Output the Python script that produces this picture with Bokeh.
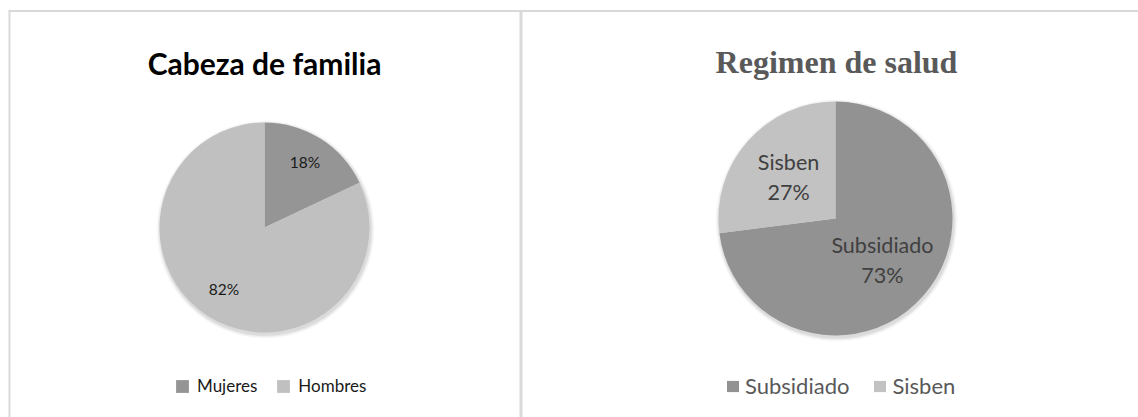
import numpy as np
from bokeh.plotting import figure
from bokeh.models import Range1d, ColumnDataSource, Legend, LegendItem
from bokeh.core.properties import value
from bokeh.embed import file_html
from bokeh.resources import INLINE

# ---- data ----
titles = ["Cabeza de familia", "Regimen de salud"]
fam_categories = ["Mujeres", "Hombres"]
fam_values = [18, 82]
sal_categories = ["Subsidiado", "Sisben"]
sal_values = [73, 27]

fam_colors = ["#959595", "#c0c0c0"]
sal_colors = ["#929292", "#c2c2c2"]

W, H = 1138, 417


def py(y):
    # page pixel y -> data y
    return 417 - y


p = figure(width=W, height=H, x_range=Range1d(0, 1138), y_range=Range1d(0, 417),
           x_axis_type=None, y_axis_type=None, toolbar_location=None,
           output_backend="svg", min_border=0)
p.outline_line_color = None
p.grid.visible = False
p.background_fill_color = "white"

# panel frame lines
p.segment(x0=[8, 9, 520.5], y0=[py(10.5), py(10), py(10)],
          x1=[1138, 9, 520.5], y1=[py(10.5), 0, 0],
          line_color="#d9d9d9", line_width=[2, 2, 3])


def pie_source(cats, vals, colors, cx, cy, r, label_frac):
    v = np.array(vals, float)
    frac = v / v.sum()
    ends = np.pi / 2 - 2 * np.pi * np.cumsum(frac)
    starts = np.concatenate([[np.pi / 2], ends[:-1]])
    mids = (starts + ends) / 2
    lx = cx + label_frac * r * np.cos(mids)
    ly = cy + label_frac * r * np.sin(mids)
    pct = [f"{round(f * 100)}%" for f in frac]
    return ColumnDataSource(dict(cat=list(cats), start=starts, end=ends, color=list(colors),
                                 lx=lx, ly=ly, pct=pct))


def shadow(cx, cy, r):
    for k, a in [(4, 0.025), (3, 0.03), (2, 0.04), (1, 0.05)]:
        p.circle(x=[cx + 1], y=[cy - 2], radius=r + k, fill_color="black",
                 fill_alpha=a, line_color=None)


# ---- left pie ----
lcx, lcy, lr = 264, py(227), 105
shadow(lcx, lcy, lr)
src_l = pie_source(fam_categories, fam_values, fam_colors, lcx, lcy, lr, 0.72)
r_l = p.wedge(x=lcx, y=lcy, radius=lr, start_angle="start", end_angle="end",
              direction="clock", fill_color="color", line_color=None, source=src_l)
p.text(x="lx", y="ly", text="pct", source=src_l, text_align="center", y_offset=-2,
       text_baseline="middle", text_font=value("Lato"), text_font_size="15.5px",
       text_color="#1a1a1a")
p.text(x=[264], y=[py(62)], text=[titles[0]], text_align="center",
       text_baseline="alphabetic", text_font=value("Lato"), text_font_style="bold",
       text_font_size="30px", text_color="black")

# ---- right pie ----
rcx, rcy, rr = 835, py(218), 117
shadow(rcx, rcy, rr)
src_r = pie_source(sal_categories, sal_values, sal_colors, rcx, rcy, rr, 0.535)
r_r = p.wedge(x=rcx, y=rcy, radius=rr, start_angle="start", end_angle="end",
              direction="clock", fill_color="color", line_color=None, source=src_r)
p.text(x="lx", y="ly", text="cat", source=src_r, text_align="center", y_offset=-15,
       text_baseline="middle", text_font=value("Lato"), text_font_size="21.5px",
       text_color="#404040")
p.text(x="lx", y="ly", text="pct", source=src_r, text_align="center", y_offset=15,
       text_baseline="middle", text_font=value("Lato"), text_font_size="21.5px",
       text_color="#404040")
p.text(x=[836], y=[py(61)], text=[titles[1]], text_align="center",
       text_baseline="alphabetic", text_font=value("Liberation Serif"),
       text_font_style="bold", text_font_size="32px", text_color="#595959")

# ---- legends ----
leg_l = Legend(items=[LegendItem(label=c, renderers=[r_l], index=i)
                      for i, c in enumerate(fam_categories)],
               orientation="horizontal", location=(174, 21), padding=0, margin=0,
               spacing=18, label_standoff=7, glyph_width=16, glyph_height=16,
               label_height=16, label_text_font="Lato", label_text_font_size="17px",
               label_text_color="#1a1a1a", background_fill_alpha=0, border_line_alpha=0)
leg_r = Legend(items=[LegendItem(label=c, renderers=[r_r], index=i)
                      for i, c in enumerate(sal_categories)],
               orientation="horizontal", location=(725, 18), padding=0, margin=0,
               spacing=23, label_standoff=5, glyph_width=15, glyph_height=14,
               label_height=14, label_text_font="Lato", label_text_font_size="22px",
               label_text_color="#595959", background_fill_alpha=0, border_line_alpha=0)
p.add_layout(leg_l)
p.add_layout(leg_r)

open("out.html", "w").write(file_html(p, INLINE))
